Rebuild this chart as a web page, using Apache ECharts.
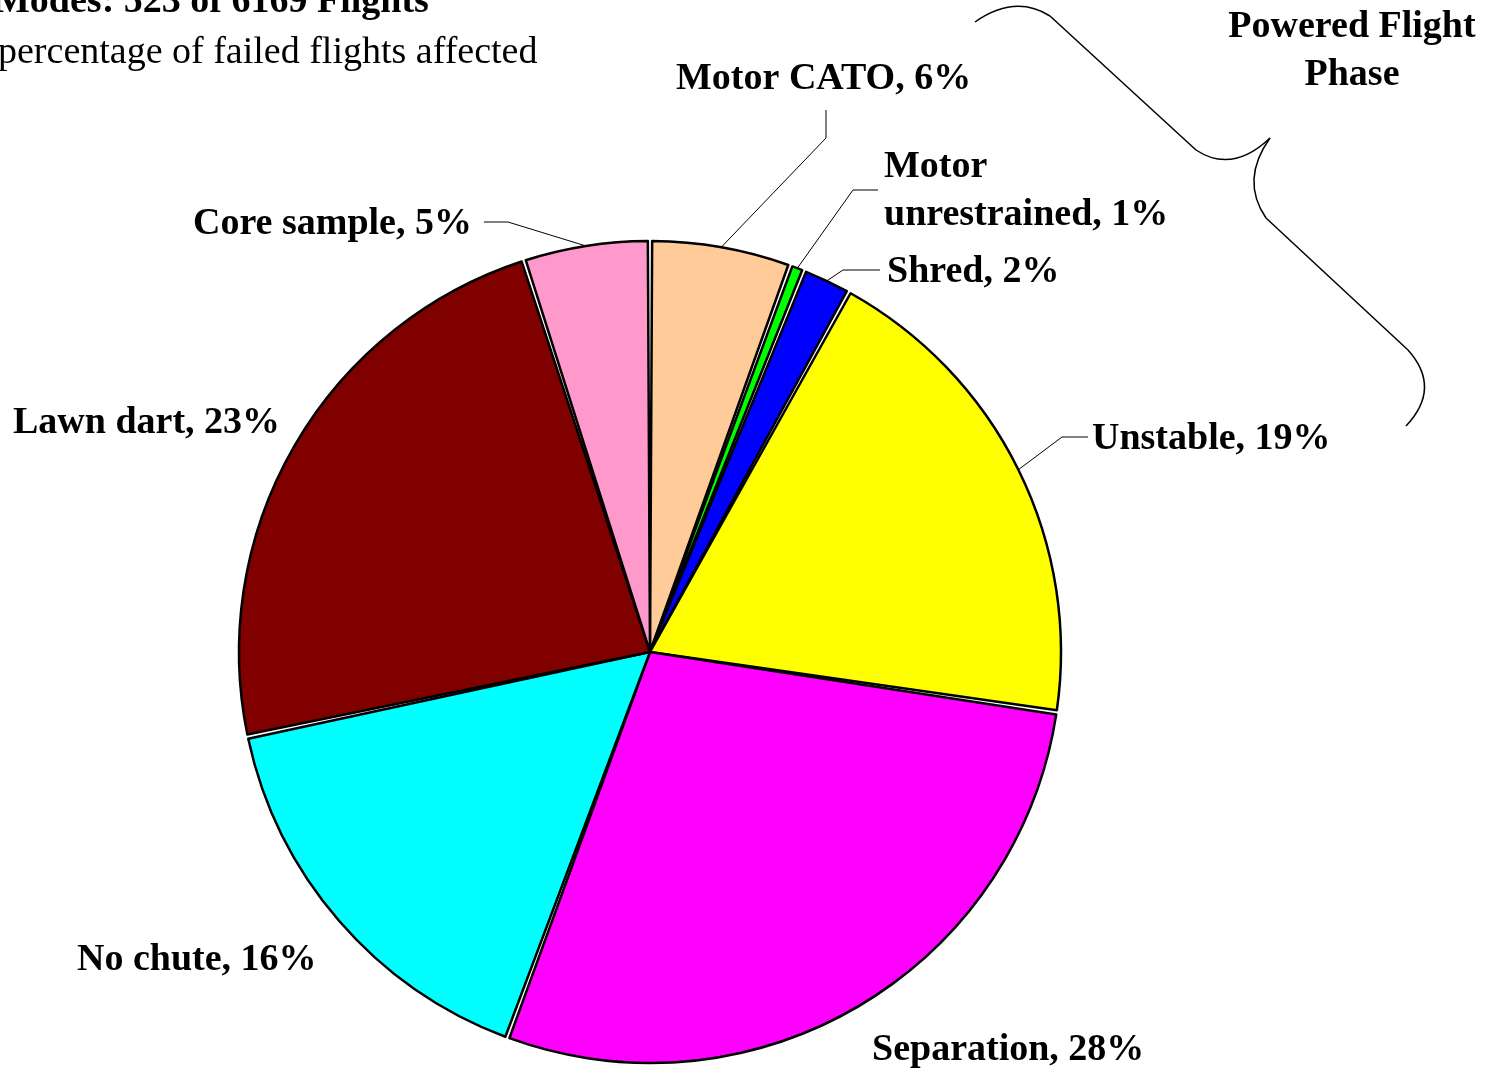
<!DOCTYPE html>
<html>
<head>
<meta charset="utf-8">
<script src="https://cdn.jsdelivr.net/npm/echarts@6/dist/echarts.min.js"></script>
<style>
html, body { margin: 0; padding: 0; background: #fff; }
#main { width: 1500px; height: 1069px; }
</style>
</head>
<body>
<div id="main"></div>
<script>
// failure modes, clockwise from 12 o'clock
var modes = ['Motor CATO', 'Motor unrestrained', 'Shred', 'Unstable', 'Separation', 'No chute', 'Lawn dart', 'Core sample'];
var flights = [29, 3, 10, 101, 148, 84, 122, 26];
var colors = ['#FFCC99', '#00FF00', '#0000FF', '#FFFF00', '#FF00FF', '#00FFFF', '#800000', '#FF99CC'];

var titleText = 'Modes: 523 of 6169 Flights';
var subText = 'percentage of failed flights affected';
var phaseText = 'Powered Flight\nPhase';

// label spot for each slice: left x, middle y, leader elbow points (or null)
var spots = [
    [676, 79, [[826, 138], [826, 110]]],
    [884, 191, [[853, 190], [878, 190]]],
    [887, 272, [[843, 270], [880, 270]]],
    [1092, 439, [[1062, 437], [1088, 437]]],
    [872, 1050, null],
    [77, 960, null],
    [13, 423, null],
    [193, 224, [[508, 222], [484, 222]]]
];

var serif = 'Liberation Serif';
var braceStyle = {fill: 'none', stroke: '#000', lineWidth: 1.5};

var chart = echarts.init(document.getElementById('main'));

var pieData = [];
for (var i = 0; i < modes.length; i++) {
    var item = {name: modes[i], value: flights[i], itemStyle: {color: colors[i]}};
    if (!spots[i][2]) item.labelLine = {show: false};
    pieData.push(item);
}

// brace round the powered flight slices, drawn as curves and lines
function curve(x1, y1, cx, cy, x2, y2) {
    return {type: 'bezierCurve', shape: {x1: x1, y1: y1, cpx1: cx, cpy1: cy, x2: x2, y2: y2}, style: braceStyle};
}
function seg(x1, y1, x2, y2) {
    return {type: 'line', shape: {x1: x1, y1: y1, x2: x2, y2: y2}, style: braceStyle};
}

chart.setOption({
    backgroundColor: '#fff',
    animation: false,
    graphic: [
        {
            type: 'text', x: -6, y: 2,
            style: {text: titleText, font: 'bold 38px "' + serif + '"', fill: '#000', verticalAlign: 'middle'}
        },
        {
            type: 'text', x: -2, y: 53,
            style: {text: subText, font: '38px "' + serif + '"', fill: '#000', verticalAlign: 'middle'}
        },
        {
            type: 'text', x: 1352, y: 3,
            style: {
                text: phaseText, font: 'bold 38px "' + serif + '"', fill: '#000',
                align: 'center', lineHeight: 48
            }
        },
        curve(975, 22, 1015, -6, 1050, 16),
        seg(1050, 16, 1196, 150),
        curve(1196, 150, 1232, 174, 1270, 138),
        curve(1270, 138, 1240, 180, 1266, 218),
        seg(1266, 218, 1408, 350),
        curve(1408, 350, 1442, 388, 1406, 426)
    ],
    series: [{
        type: 'pie',
        center: [650, 652],
        radius: 411,
        startAngle: 90,
        clockwise: true,
        padAngle: 0.6,
        avoidLabelOverlap: false,
        data: pieData,
        itemStyle: {borderColor: '#000', borderWidth: 2.5},
        emphasis: {disabled: true},
        label: {
            show: true,
            position: 'outside',
            color: '#000',
            fontFamily: serif,
            fontWeight: 'bold',
            fontSize: 38,
            lineHeight: 48,
            width: 420,
            overflow: 'none',
            formatter: function (p) {
                var name = p.name === 'Motor unrestrained' ? 'Motor\nunrestrained' : p.name;
                return name + ', ' + Math.round(p.percent) + '%';
            }
        },
        labelLine: {
            show: true,
            lineStyle: {color: '#000', width: 1}
        },
        labelLayout: function (p) {
            var s = spots[p.dataIndex];
            var out = {x: s[0], y: s[1], align: 'left', verticalAlign: 'middle'};
            if (s[2] && p.labelLinePoints) {
                var a = p.labelLinePoints[0];
                out.labelLinePoints = [[a[0], a[1]], s[2][0].slice(), s[2][1].slice()];
            }
            return out;
        }
    }]
});
</script>
</body>
</html>
